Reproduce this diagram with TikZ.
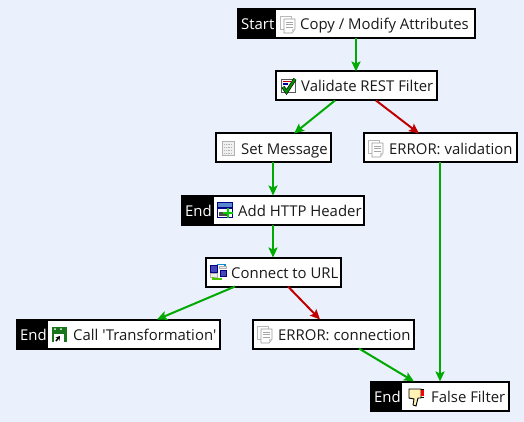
\documentclass[tikz,border=0pt]{standalone}
\usepackage{fontspec}
\newfontfamily\lblfont{Open Sans}
\usetikzlibrary{arrows.meta}
\definecolor{bgc}{HTML}{EAF1FD}
\definecolor{okc}{HTML}{00AA00}
\definecolor{errc}{HTML}{C00000}
\definecolor{txtc}{HTML}{1A1A1A}
\tikzset{
  x=1pt,y=-1pt,
  boxn/.style={draw=black,line width=2pt,fill=white,minimum height=29pt,inner sep=0pt,outer sep=0pt,rectangle},
  tagn/.style={fill=black,text=white,font=\lblfont\fontsize{14.9}{16}\selectfont,inner sep=0pt,anchor=base west},
  lab/.style={text=txtc,font=\lblfont\fontsize{14.9}{16}\selectfont,inner sep=0pt,anchor=base west},
  edgeok/.style={draw=okc,line width=2pt,-{Stealth[length=10pt,width=9pt,inset=2pt]}},
  edgeerr/.style={draw=errc,line width=2pt,-{Stealth[length=10pt,width=9pt,inset=2pt]}},
  pics/docicon/.style={code={
    \draw[fill=white,draw=gray!55,line width=.8pt] (0,0) rectangle (11,13);
    \draw[fill=white,draw=gray!80,line width=.8pt] (4,3) -- (15,3) -- (15,13) -- (12,17) -- (4,17) -- cycle;
    \foreach \yy in {6,8.5,11}{\draw[gray!70,line width=.7pt] (6,\yy) -- (13,\yy);}
    \fill[gray!35] (12,17) -- (15,13) -- (12,13) -- cycle;
  }},
}
\begin{document}
\begin{tikzpicture}
\useasboundingbox (0,0) rectangle (524,422);
\fill[bgc] (0,0) rectangle (524,422);
% boxes
\node[boxn,minimum width=237pt] (copy) at (356,24) {};
\node[boxn,minimum width=161pt] (valid) at (356,86) {};
\node[boxn,minimum width=115pt] (setm) at (273,148) {};
\node[boxn,minimum width=153pt] (errv) at (440,148) {};
\node[boxn,minimum width=182pt] (http) at (272.5,210) {};
\node[boxn,minimum width=135pt] (conn) at (273,272) {};
\node[boxn,minimum width=203pt] (call) at (118,334) {};
\node[boxn,minimum width=161pt] (errc2) at (333,334) {};
\node[boxn,minimum width=138pt] (false) at (440,396) {};
% black tags
\fill[black] (237,9) rectangle (276,39);
\fill[black] (181,195) rectangle (214,225);
\fill[black] (16,319) rectangle (48,349);
\fill[black] (370,381) rectangle (402,411);
\node[tagn] (t1) at (241,30) {Start};
\node[tagn] (t2) at (185,216) {End};
\node[tagn] (t3) at (20,340) {End};
\node[tagn] (t4) at (374,402) {End};
% labels
\node[lab] (l1) at (300,30) {Copy / Modify Attributes};
\node[lab] (l2) at (301,92) {Validate REST Filter};
\node[lab] (l3) at (241,154) {Set Message};
\node[lab] (l4) at (389,154) {ERROR: validation};
\node[lab] (l5) at (238,216) {Add HTTP Header};
\node[lab] (l6) at (231,278) {Connect to URL};
\node[lab] (l7) at (73,340) {Call 'Transformation'};
\node[lab] (l8) at (278,340) {ERROR: connection};
\node[lab] (l9) at (431,402) {False Filter};
% icons
\pic at (280,16) {docicon};
\pic at (368,140) {docicon};
\pic at (257,326) {docicon};
% validate icon
\draw[fill=white,draw=gray!70!black,line width=.8pt] (281,79) rectangle (295,92);
\fill[errc] (283,81) rectangle (291,82.5);
\fill[blue!60!black] (283,83.5) rectangle (288,85);
\draw[black,line width=3.4pt] (283,87) -- (286.5,92) -- (295,79);
\draw[okc!85!black,line width=2.2pt] (283,87) -- (286.5,92) -- (295,79);
% set message icon
\draw[fill=gray!12,draw=gray!60,line width=.8pt] (222,141) rectangle (234,155);
\foreach \yy in {144,147,150,153}{\draw[gray!60,line width=.8pt,densely dotted] (224,\yy) -- (232,\yy);}
% http icon
\fill[blue!55!black] (217,202) rectangle (233,218);
\fill[cyan!45!blue!70] (218,203) rectangle (232,207);
\fill[white] (218,209) rectangle (232,217);
\fill[black!70] (219,212) rectangle (228,216);
\draw[green!80!black,line width=2.6pt] (228,208) -- (228,218) (223,213) -- (233,213);
% connect icon
\draw[fill=blue!45!gray,draw=blue!50!black,line width=.6pt] (210.5,265) rectangle (217,272);
\draw[fill=blue!45!gray,draw=blue!50!black,line width=.6pt] (220,270) rectangle (226,276);
\draw[gray!60,fill=gray!15,line width=.5pt] (219,266) rectangle (226,268.5);
\draw[gray!60,fill=gray!15,line width=.5pt] (210.5,273) rectangle (217,277);
\draw[cyan!70!blue,line width=1.2pt] (217,264.6) -- (225,264.6) -- (225,266);
\draw[okc!70!yellow,line width=1.2pt] (213,277) -- (213,279) -- (222,279);
% call icon
\fill[green!40!black!90] (52,327) rectangle (67,342);
\fill[white] (55,329) circle (1) (61,329) circle (1);
\fill[white] (54,334) rectangle (64,342);
\draw[black,line width=1.6pt,-{Stealth[length=4pt,width=5pt]}] (56,341) -- (60,336);
% false filter icon
\draw[fill=orange!35!yellow!30!white,draw=black,line width=.9pt] (409,389) -- (421,389) -- (421,398) -- (418,398) -- (416,406) -- (413,405) -- (414,399) -- (409,398) -- cycle;
\fill[red] (421,390) rectangle (424,396);
\draw[black,line width=.8pt] (421,389) -- (424,389) (421,397) -- (424,397);
% connectors
\draw[edgeok] (copy.south) -- (valid.north);
\draw[edgeok] ([xshift=-21pt]valid.south) -- ([xshift=21pt]setm.north);
\draw[edgeerr] ([xshift=20pt]valid.south) -- ([xshift=-21pt]errv.north);
\draw[edgeok] (setm.south) -- ([xshift=.5pt]http.north);
\draw[edgeok] (errv.south) -- (false.north);
\draw[edgeok] ([xshift=.5pt]http.south) -- (conn.north);
\draw[edgeok] ([xshift=-38pt]conn.south) -- ([xshift=39pt]call.north);
\draw[edgeerr] ([xshift=15pt]conn.south) -- ([xshift=-13pt]errc2.north);
\draw[edgeok] ([xshift=26pt]errc2.south) -- ([xshift=-26pt]false.north);
\end{tikzpicture}
\end{document}
